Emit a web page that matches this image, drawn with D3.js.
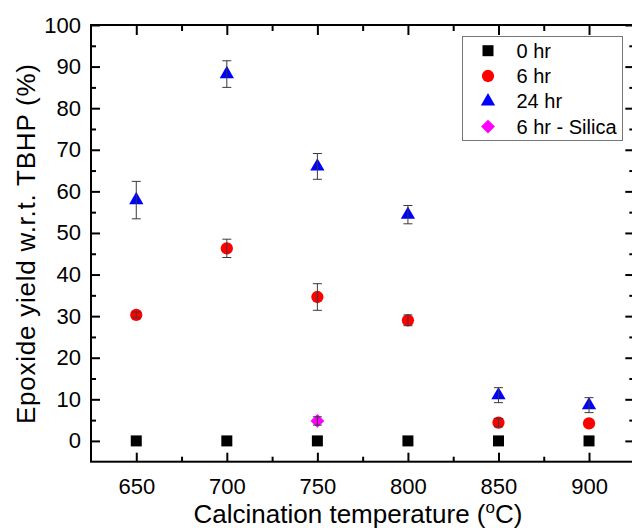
<!DOCTYPE html>
<html>
<head>
<meta charset="utf-8">
<script src="https://cdn.jsdelivr.net/npm/d3@7"></script>
<style>
  html, body { margin: 0; padding: 0; background: #fff; }
  svg { display: block; font-family: "Liberation Sans", Arial, sans-serif; }
</style>
</head>
<body>
<svg id="chart" width="632" height="528"></svg>
<script>
// Calcination temperatures (°C)
const temps = [650, 700, 750, 800, 850, 900];

// Epoxide yield w.r.t. TBHP (%) and error half-widths per reaction time
const yield0h  = [0, 0, 0, 0, 0, 0];
const err0h    = [0, 0, 0, 0, 0, 0];
const yield6h  = [30.3, 46.3, 34.6, 29.0, 4.4, 4.2];
const err6h    = [0.7, 2.2, 3.2, 1.3, 1.0, 0];
const yield24h = [57.9, 88.2, 66.0, 54.4, 11.0, 8.6];
const err24h   = [4.5, 3.2, 3.1, 2.2, 1.8, 1.8];
const silicaTemps = [750];
const yieldSilica = [4.8];
const errSilica   = [1.0];

const seriesNames = ["0 hr", "6 hr", "24 hr", "6 hr - Silica"];
const xTicks = [650, 700, 750, 800, 850, 900];
const yTicks = [0, 10, 20, 30, 40, 50, 60, 70, 80, 90, 100];

const series = [
  { name: seriesNames[0], x: temps, y: yield0h, e: err0h, color: "#000000", shape: "square" },
  { name: seriesNames[1], x: temps, y: yield6h, e: err6h, color: "#ff0000", shape: "circle" },
  { name: seriesNames[2], x: temps, y: yield24h, e: err24h, color: "#0000ff", shape: "triangle" },
  { name: seriesNames[3], x: silicaTemps, y: yieldSilica, e: errSilica, color: "#ff00ff", shape: "diamond" }
];

const svg = d3.select("#chart");
const plotLeft = 91, plotRight = 634.3, plotTop = 25, plotBottom = 461.7;

const x = d3.scaleLinear().domain([625, 925]).range([plotLeft, plotRight]);
const y = d3.scaleLinear().domain([-5, 100]).range([plotBottom, plotTop]);

const symbolGen = {
  square: d3.symbol().type(d3.symbolSquare).size(121),
  circle: d3.symbol().type(d3.symbolCircle).size(118),
  triangle: d3.symbol().type(d3.symbolTriangle).size(88),
  diamond: d3.symbol().type(d3.symbolSquare).size(96)
};
function symbolPath(shape) { return symbolGen[shape](); }
function symbolRot(shape) { return shape === "diamond" ? " rotate(45)" : ""; }

// Minor tick values (between majors)
const xMinor = d3.range(675, 925, 50);
const yMinor = d3.range(-5, 100, 10).filter(v => v > -5);

const axisColor = "#000";
const majorLen = 9, minorLen = 5;

// Bottom axis (ticks inside)
const gBottom = svg.append("g").attr("transform", `translate(0,${plotBottom})`)
  .call(d3.axisBottom(x).tickValues(xTicks).tickSize(-majorLen).tickPadding(majorLen + 8).tickFormat(d3.format("d")));
gBottom.selectAll(".tick text").attr("font-size", 22).attr("fill", "#000")
  .style("font-family", "'Liberation Sans', Arial, sans-serif");
svg.append("g").attr("transform", `translate(0,${plotBottom})`)
  .call(d3.axisBottom(x).tickValues(xMinor).tickSize(-minorLen).tickFormat(""));

// Top axis (ticks inside, no labels)
svg.append("g").attr("transform", `translate(0,${plotTop})`)
  .call(d3.axisTop(x).tickValues(xTicks).tickSize(-majorLen - 1).tickFormat(""));
svg.append("g").attr("transform", `translate(0,${plotTop})`)
  .call(d3.axisTop(x).tickValues(xMinor).tickSize(-minorLen - 1).tickFormat(""));

// Left axis
const gLeft = svg.append("g").attr("transform", `translate(${plotLeft},0)`)
  .call(d3.axisLeft(y).tickValues(yTicks).tickSize(-majorLen).tickPadding(majorLen + 1).tickFormat(d3.format("d")));
gLeft.selectAll(".tick text").attr("font-size", 22).attr("fill", "#000")
  .style("font-family", "'Liberation Sans', Arial, sans-serif");
svg.append("g").attr("transform", `translate(${plotLeft},0)`)
  .call(d3.axisLeft(y).tickValues(yMinor).tickSize(-minorLen).tickFormat(""));

// Right axis
svg.append("g").attr("transform", `translate(${plotRight},0)`)
  .call(d3.axisRight(y).tickValues(yTicks).tickSize(-majorLen).tickFormat(""));
svg.append("g").attr("transform", `translate(${plotRight},0)`)
  .call(d3.axisRight(y).tickValues(yMinor).tickSize(-minorLen).tickFormat(""));

svg.selectAll(".domain").remove();
svg.selectAll(".tick line").attr("stroke", axisColor).attr("stroke-width", 2);

// Frame
svg.append("rect")
  .attr("x", plotLeft).attr("y", plotTop)
  .attr("width", plotRight - plotLeft).attr("height", plotBottom - plotTop)
  .attr("fill", "none").attr("stroke", axisColor).attr("stroke-width", 2);

// Points with error bars
const plot = svg.append("g");
series.forEach(s => {
  const pts = s.x.map((xv, i) => ({ x: xv, y: s.y[i], e: s.e[i] }));
  const g = plot.append("g");
  // markers
  g.selectAll("path.mark").data(pts).join("path")
    .attr("class", "mark")
    .attr("d", symbolPath(s.shape))
    .attr("transform", d => `translate(${x(d.x)},${y(d.y)})` + symbolRot(s.shape))
    .attr("fill", s.color);
  // error bars drawn over the markers
  const eb = g.selectAll("g.err").data(pts.filter(d => d.e > 0)).join("g").attr("class", "err")
    .attr("stroke", "#3a3a3a").attr("stroke-width", 1).attr("fill", "none");
  eb.append("line")
    .attr("x1", d => x(d.x)).attr("x2", d => x(d.x))
    .attr("y1", d => y(d.y + d.e)).attr("y2", d => y(d.y - d.e));
  eb.append("line")
    .attr("x1", d => x(d.x) - 4.5).attr("x2", d => x(d.x) + 4.5)
    .attr("y1", d => y(d.y + d.e)).attr("y2", d => y(d.y + d.e));
  eb.append("line")
    .attr("x1", d => x(d.x) - 4.5).attr("x2", d => x(d.x) + 4.5)
    .attr("y1", d => y(d.y - d.e)).attr("y2", d => y(d.y - d.e));
});

// Legend
const lg = svg.append("g");
lg.append("rect")
  .attr("x", 462.5).attr("y", 36.5).attr("width", 160).attr("height", 104)
  .attr("fill", "#fff").attr("stroke", "#777").attr("stroke-width", 1);
series.forEach((s, i) => {
  const cy = 50.7 + i * 25.3;
  lg.append("path")
    .attr("d", symbolPath(s.shape))
    .attr("transform", `translate(488,${cy})` + symbolRot(s.shape))
    .attr("fill", s.color);
  lg.append("text")
    .attr("x", 516.5).attr("y", cy + 7)
    .attr("font-size", 20).attr("fill", "#000")
    .text(s.name);
});

// Axis titles
const xt = svg.append("text")
  .attr("x", 358).attr("y", 523)
  .attr("text-anchor", "middle").attr("font-size", 26).attr("fill", "#000");
xt.append("tspan").text("Calcination temperature (");
xt.append("tspan").attr("font-size", 17).attr("dy", -10).text("o");
xt.append("tspan").attr("dy", 10).text("C)");

svg.append("text")
  .attr("transform", "translate(35,244) rotate(-90)")
  .attr("text-anchor", "middle").attr("font-size", 26).attr("fill", "#000")
  .attr("textLength", 360).attr("lengthAdjust", "spacing")
  .text("Epoxide yield w.r.t. TBHP (%)");
</script>
</body>
</html>
